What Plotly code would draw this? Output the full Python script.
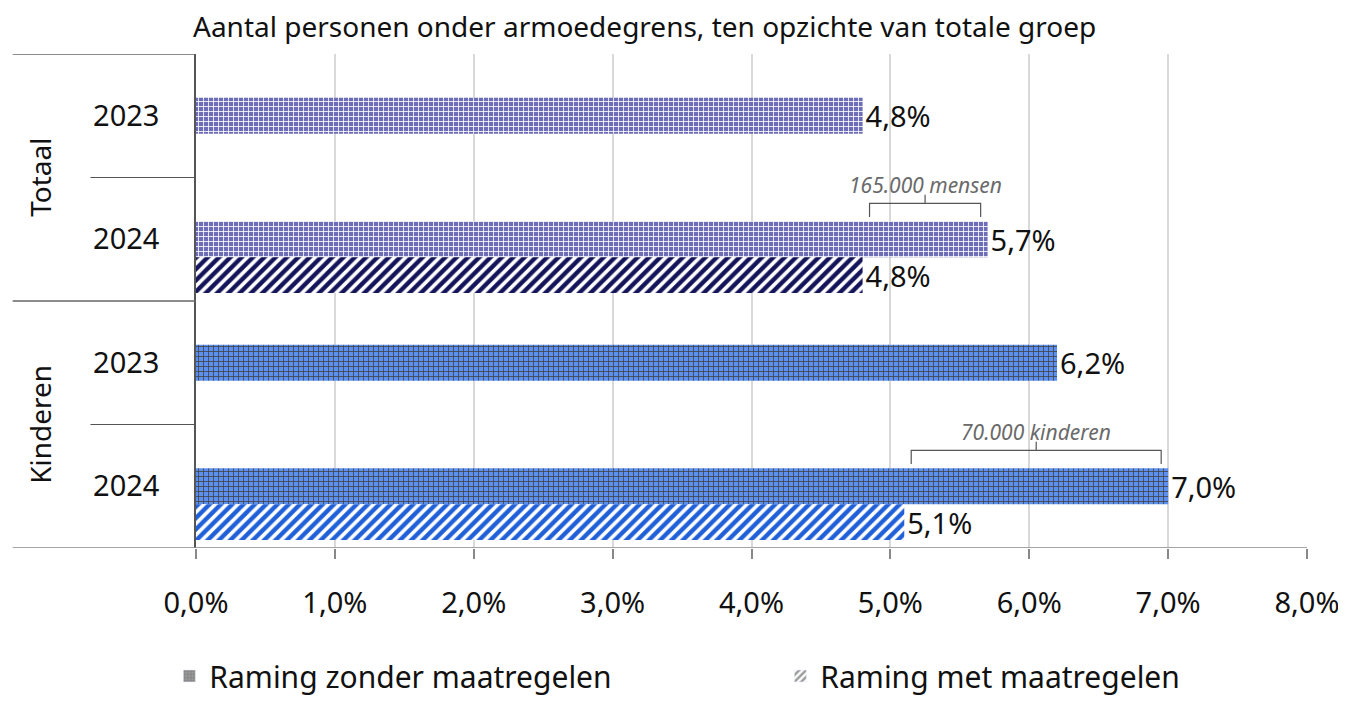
import plotly.graph_objects as go

groups = ["Totaal", "Totaal", "Kinderen", "Kinderen"]
years = ["2023", "2024", "2023", "2024"]
zonder = [4.8, 5.7, 6.2, 7.0]
met = [None, 4.8, None, 5.1]
bracket_texts = [None, "165.000 mensen", None, "70.000 kinderen"]
x_ticks = [0, 1, 2, 3, 4, 5, 6, 7, 8]
title_text = "Aantal personen onder armoedegrens, ten opzichte van totale groep"
legend_names = ["Raming zonder maatregelen", "Raming met maatregelen"]

zonder_colors = {"Totaal": "#6d6db8", "Kinderen": "#5c90f0"}
zonder_fg = {"Totaal": "#5858a8", "Kinderen": "#4c82e4"}
met_fg = {"Totaal": "#14145a", "Kinderen": "#1f5fd8"}

FONT = "Noto Sans"
pos = list(range(len(years)))
BW = 0.29
tick_text = [f"{v:.1f}".replace(".", ",") + "%" for v in x_ticks]

fig = go.Figure()

fig.add_trace(go.Bar(
    x=zonder, y=pos, orientation="h", width=BW, offset=-BW / 2,
    marker=dict(
        color=[zonder_colors[g] for g in groups],
        line=dict(width=0),
        pattern=dict(shape="+", size=5, solidity=0.3, fgopacity=1,
                     fgcolor=[zonder_fg[g] for g in groups],
                     bgcolor=[zonder_colors[g] for g in groups]),
    ),
    texttemplate="%{x:.1f}%", textposition="outside",
    textfont=dict(size=29, color="#111111", family=FONT),
    constraintext="none", cliponaxis=False, showlegend=False, hoverinfo="skip",
))

fig.add_trace(go.Bar(
    x=met, y=pos, orientation="h", width=BW, offset=BW / 2,
    marker=dict(
        color="white",
        line=dict(width=0),
        pattern=dict(shape="/", size=8, solidity=0.55, fgopacity=1,
                     fgcolor=[met_fg[g] for g in groups], bgcolor="white"),
    ),
    texttemplate="%{x:.1f}%", textposition="outside",
    textfont=dict(size=29, color="#111111", family=FONT),
    constraintext="none", cliponaxis=False, showlegend=False, hoverinfo="skip",
))

# legend-only entries (grey icons)
fig.add_trace(go.Bar(
    x=[None], y=[None], orientation="h", name=legend_names[0],
    marker=dict(color="#8a8a8a", pattern=dict(shape="+", size=4, solidity=0.35,
                                               fgcolor="#5a5a5a", bgcolor="#9a9a9a")),
))
fig.add_trace(go.Bar(
    x=[None], y=[None], orientation="h", name=legend_names[1],
    marker=dict(color="white", pattern=dict(shape="/", size=6, solidity=0.5,
                                             fgcolor="#333333", bgcolor="white")),
))

shapes = []
annotations = []

# brackets
for i, t in enumerate(bracket_texts):
    if t is None:
        continue
    x1 = met[i] + 0.05
    x2 = zonder[i] - 0.05
    xm = (x1 + x2) / 2
    yb = pos[i] - 0.18
    yh = pos[i] - 0.29
    yp = pos[i] - 0.36
    path = (f"M {x1},{yb} L {x1},{yh} L {xm},{yh} L {xm},{yp} "
            f"M {xm},{yh} L {x2},{yh} L {x2},{yb}")
    shapes.append(dict(type="path", path=path, xref="x", yref="y",
                       line=dict(color="#555555", width=1.2)))
    annotations.append(dict(x=xm, y=pos[i] - 0.44, xref="x", yref="y", text=f"<i>{t}</i>",
                            showarrow=False, font=dict(size=21, color="#6a6a6a", family=FONT),
                            yanchor="middle", xanchor="center"))

# left-side category dividers
LX0 = -0.165
LX1 = -0.095
for yv in [-0.5, 1.5]:
    shapes.append(dict(type="line", xref="paper", yref="y", x0=LX0, x1=0, y0=yv, y1=yv,
                       line=dict(color="#666666", width=1.5)))
shapes.append(dict(type="line", xref="paper", yref="y", x0=LX0, x1=1, y0=3.5, y1=3.5,
                   line=dict(color="#888888", width=1.5)))
for yv in [0.5, 2.5]:
    shapes.append(dict(type="line", xref="paper", yref="y", x0=LX1, x1=0, y0=yv, y1=yv,
                       line=dict(color="#555555", width=1)))

# group labels
for g, yc in [("Totaal", 0.5), ("Kinderen", 2.5)]:
    annotations.append(dict(x=-0.141, y=yc, xref="paper", yref="y", text=g, textangle=-90,
                            showarrow=False, font=dict(size=28, color="#111111", family=FONT),
                            xanchor="center", yanchor="middle"))

# page body adds ~8px margin; compensate in the figure margins
fig.update_layout(
    width=1346, height=702,
    margin=dict(l=188, r=47, t=46, b=162, autoexpand=False),
    paper_bgcolor="white", plot_bgcolor="white",
    separators=",.",
    barmode="overlay",
    font=dict(family=FONT, color="#111111"),
    title=dict(text=title_text, x=185 / 1346, xanchor="left", xref="container",
               y=1 - 19 / 702, yanchor="middle", yref="container",
               font=dict(size=28, color="#111111", family=FONT)),
    xaxis=dict(range=[0, 8], tickvals=x_ticks, ticktext=tick_text, automargin=False,
               showgrid=True, gridcolor="#d9d9d9", gridwidth=1.5, zeroline=False,
               showline=False, ticks="outside", ticklen=10, tickcolor="#888888",
               tickwidth=1.5, ticklabelstandoff=19,
               tickfont=dict(size=29, color="#111111", family=FONT)),
    yaxis=dict(range=[3.5, -0.5], tickvals=pos, ticktext=years, showgrid=False,
               automargin=False, zeroline=False, showline=True, linecolor="#555555",
               linewidth=1.5, ticks="", ticklabelstandoff=29,
               tickfont=dict(size=29, color="#111111", family=FONT)),
    legend=dict(orientation="h", x=-0.024, xanchor="left", y=-0.259, yanchor="middle",
                font=dict(size=30, color="#111111", family=FONT), entrywidth=566,
                itemwidth=30),
    shapes=shapes, annotations=annotations,
)

fig.write_html("out.html")
